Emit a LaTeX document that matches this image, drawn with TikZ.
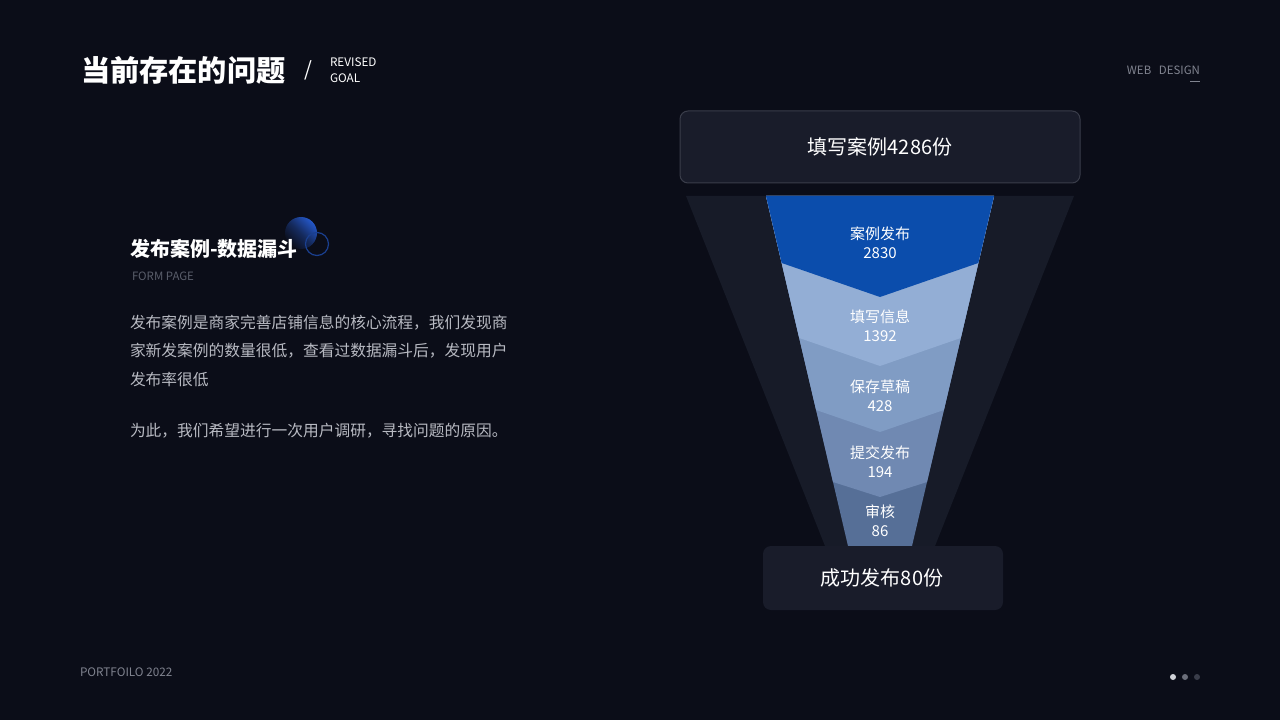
\documentclass[tikz,border=0pt]{standalone}
\usepackage{fontspec}
\setmainfont{Noto Sans CJK SC}
\definecolor{bg}{HTML}{0B0D18}
\definecolor{boxfill}{HTML}{191C2A}
\definecolor{boxline}{HTML}{3A3D4A}
\definecolor{outerfun}{HTML}{171B28}
\definecolor{segA}{HTML}{0B4DAC}
\definecolor{segB}{HTML}{93AED5}
\definecolor{segC}{HTML}{809CC4}
\definecolor{segD}{HTML}{7089B2}
\definecolor{segE}{HTML}{566F97}
\definecolor{bodytext}{HTML}{B8BAC2}
\definecolor{graytext}{HTML}{80838F}
\definecolor{dimtext}{HTML}{5A5E6B}
\definecolor{ringblue}{HTML}{1A3F8F}
\definecolor{ballblue}{HTML}{2457C8}
\definecolor{dotA}{HTML}{D0D2D8}
\definecolor{dotB}{HTML}{6B6E7A}
\definecolor{dotC}{HTML}{3A3D4A}
\tikzset{
  lbl/.style={text=white, font=\fontsize{11.25}{13}\selectfont, align=center},
  body/.style={text=bodytext, anchor=west, font=\fontsize{11.8}{14}\selectfont},
  boxtext/.style={text=white, font=\fontsize{15}{18}\selectfont},
}
\begin{document}
\begin{tikzpicture}[x=0.75pt,y=-0.75pt, every node/.style={inner sep=0pt, outer sep=0pt}]
\fill[bg] (0,0) rectangle (1280,720);
\useasboundingbox (0,0) rectangle (1280,720);

% header
\node[anchor=west, text=white, font=\fontsize{21.9}{26}\selectfont\bfseries] (title) at (81,70) {当前存在的问题};
\node[text=white, font=\fontsize{15}{18}\selectfont] (slash) at (308,70) {/};
\node[anchor=west, text=white, font=\fontsize{8.8}{10}\selectfont] (rev) at (330,62) {REVISED};
\node[anchor=west, text=white, font=\fontsize{8.8}{10}\selectfont] (goal) at (330,78) {GOAL};
\node[anchor=east, text=graytext, font=\fontsize{8.6}{10}\selectfont] (web) at (1200,70) {WEB\ \ \ DESIGN};
\draw[graytext, line width=0.75pt] (1190,82) -- (1200,82);

% subtitle decoration
\shade[top color=ballblue, bottom color=bg, middle color=ballblue!40!bg, shading angle=-45] (301,233) circle (16);
\draw[ringblue, line width=0.9pt] (317,244) circle (11.5);
\node[anchor=west, text=white, font=\fontsize{15}{18}\selectfont\bfseries] (sub) at (130,249) {发布案例-数据漏斗};
\node[anchor=west, text=dimtext, font=\fontsize{8.6}{10}\selectfont] (form) at (132,276) {FORM PAGE};

% paragraph
\node[body] (p1) at (130,323) {发布案例是商家完善店铺信息的核心流程，我们发现商};
\node[body] (p2) at (130,351) {家新发案例的数量很低，查看过数据漏斗后，发现用户};
\node[body] (p3) at (130,379) {发布率很低};
\node[body] (p4) at (130,431) {为此，我们希望进行一次用户调研，寻找问题的原因。};

% funnel
\fill[outerfun] (686,196) -- (1074,196) -- (935,546) -- (825,546) -- cycle;
\fill[segE] (766,196) -- (994,196) -- (912,546) -- (848,546) -- cycle;
\fill[segD] (766,196) -- (994,196) -- (927,482) -- (880,497) -- (833,482) -- cycle;
\fill[segC] (766,196) -- (994,196) -- (943.9,410) -- (880,432) -- (816.1,410) -- cycle;
\fill[segB] (766,196) -- (994,196) -- (960.7,338) -- (880,366) -- (799.3,338) -- cycle;
\fill[segA] (766,196) -- (994,196) -- (978.3,263) -- (880,297) -- (781.7,263) -- cycle;

\node[lbl] (s1) at (880,243) {案例发布\\[1pt]2830};
\node[lbl] (s2) at (880,326) {填写信息\\[1pt]1392};
\node[lbl] (s3) at (880,396) {保存草稿\\[1pt]428};
\node[lbl] (s4) at (880,462) {提交发布\\[1pt]194};
\node[lbl] (s5) at (880,521) {审核\\[1pt]86};

\draw[fill=boxfill, draw=boxline, line width=0.75pt, rounded corners=6pt] (680,111) rectangle (1080,183);
\node[boxtext] (top) at (880,147) {填写案例4286份};
\fill[boxfill, rounded corners=6pt] (763,546) rectangle (1003,610);
\node[boxtext] (bot) at (882,578) {成功发布80份};

% footer
\node[anchor=west, text=graytext, font=\fontsize{8.8}{10}\selectfont] (foot) at (80,672) {PORTFOILO 2022};
\fill[dotA] (1173,677) circle (3);
\fill[dotB] (1185,677) circle (3);
\fill[dotC] (1197,677) circle (3);
\end{tikzpicture}
\end{document}
